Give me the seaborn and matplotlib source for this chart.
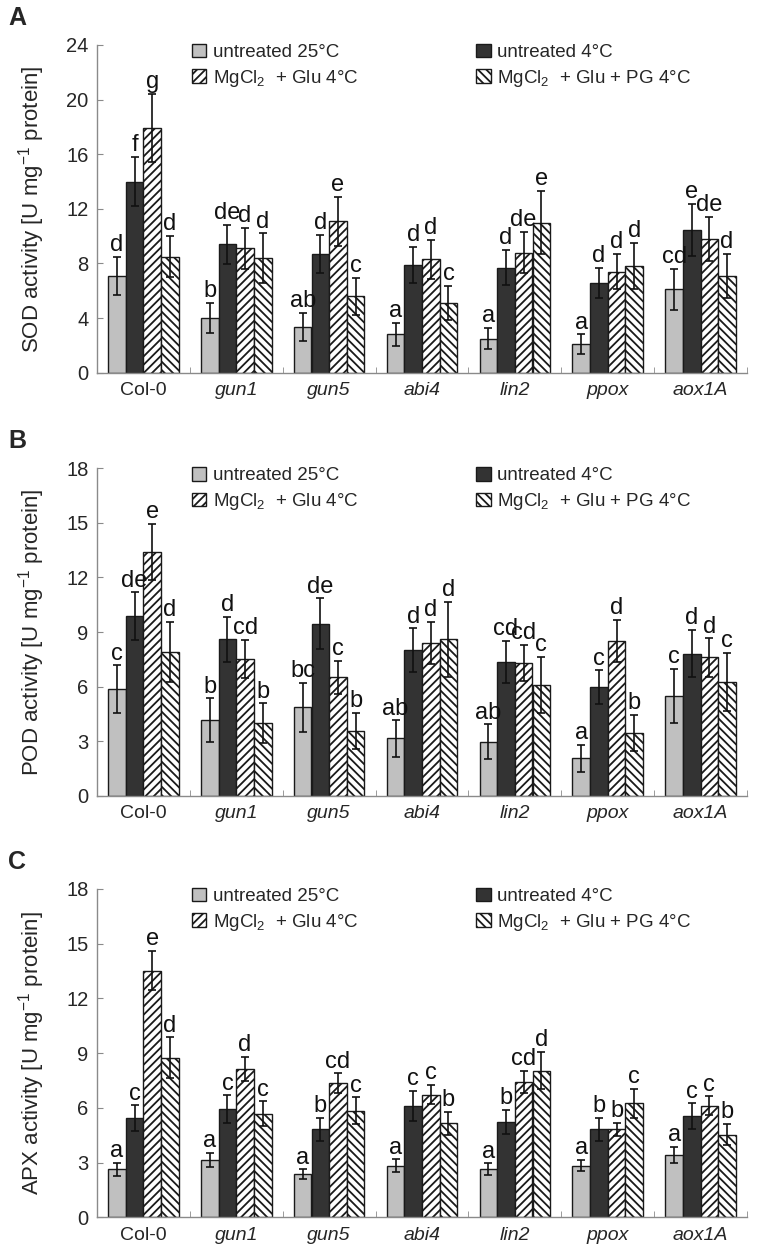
import pandas as pd
import seaborn as sns
import matplotlib.pyplot as plt
from matplotlib.patches import Patch
from matplotlib.ticker import MultipleLocator, FixedLocator

# Values (rows = genotype, cols = treatment)
genotypes = ['Col-0', 'gun1', 'gun5', 'abi4', 'lin2', 'ppox', 'aox1A']
treatments = ['untreated 25°C', 'untreated 4°C',
              'MgCl$_2$  + Glu 4°C', 'MgCl$_2$  + Glu + PG 4°C']

sod_mean = [[7.1, 14.0, 17.9, 8.5], [4.0, 9.4, 9.1, 8.4], [3.35, 8.7, 11.1, 5.6],
            [2.8, 7.9, 8.3, 5.1], [2.5, 7.7, 8.8, 11.0], [2.1, 6.6, 7.4, 7.8],
            [6.1, 10.45, 9.8, 7.1]]
sod_err = [[1.4, 1.8, 2.5, 1.5], [1.1, 1.45, 1.5, 1.8], [1.05, 1.4, 1.8, 1.35],
           [0.85, 1.3, 1.45, 1.25], [0.8, 1.3, 1.5, 2.3], [0.7, 1.1, 1.3, 1.7],
           [1.5, 1.9, 1.6, 1.6]]
sod_letters = [['d', 'f', 'g', 'd'], ['b', 'de', 'd', 'd'], ['ab', 'd', 'e', 'c'],
               ['a', 'd', 'd', 'c'], ['a', 'd', 'de', 'e'], ['a', 'd', 'd', 'd'],
               ['cd', 'e', 'de', 'd']]

pod_mean = [[5.87, 9.88, 13.4, 7.9], [4.15, 8.6, 7.5, 3.98], [4.85, 9.45, 6.5, 3.57],
            [3.15, 8.0, 8.4, 8.6], [2.97, 7.35, 7.28, 6.07], [2.05, 5.97, 8.5, 3.46],
            [5.48, 7.8, 7.6, 6.27]]
pod_err = [[1.3, 1.3, 1.55, 1.65], [1.2, 1.25, 1.05, 1.1], [1.35, 1.4, 0.9, 1.0],
           [1.0, 1.2, 1.15, 2.05], [0.95, 1.15, 1.0, 1.55], [0.73, 0.93, 1.15, 1.0],
           [1.5, 1.3, 1.05, 1.6]]
pod_letters = [['c', 'de', 'e', 'd'], ['b', 'd', 'cd', 'b'], ['bc', 'de', 'c', 'b'],
               ['ab', 'd', 'd', 'd'], ['ab', 'cd', 'cd', 'c'], ['a', 'c', 'd', 'b'],
               ['c', 'd', 'd', 'c']]

apx_mean = [[2.63, 5.43, 13.52, 8.75], [3.14, 5.92, 8.13, 5.67], [2.36, 4.82, 7.35, 5.85],
            [2.83, 6.12, 6.73, 5.15], [2.63, 5.23, 7.42, 8.04], [2.83, 4.82, 4.82, 6.25],
            [3.42, 5.54, 6.12, 4.53]]
apx_err = [[0.35, 0.7, 1.08, 1.12], [0.4, 0.77, 0.66, 0.68], [0.27, 0.64, 0.55, 0.73],
           [0.35, 0.82, 0.53, 0.62], [0.33, 0.68, 0.6, 1.02], [0.31, 0.64, 0.37, 0.8],
           [0.44, 0.7, 0.51, 0.58]]
apx_letters = [['a', 'c', 'e', 'd'], ['a', 'c', 'd', 'c'], ['a', 'b', 'cd', 'c'],
               ['a', 'c', 'c', 'b'], ['a', 'b', 'cd', 'd'], ['a', 'b', 'b', 'c'],
               ['a', 'c', 'c', 'b']]

sns.set_style('ticks')
plt.rcParams['font.family'] = ['Liberation Sans', 'DejaVu Sans']
plt.rcParams['mathtext.fontset'] = 'custom'
plt.rcParams['mathtext.rm'] = 'Liberation Sans'
plt.rcParams['mathtext.it'] = 'Liberation Sans:italic'
plt.rcParams['mathtext.default'] = 'regular'
plt.rcParams['hatch.linewidth'] = 1.3
plt.rcParams['hatch.color'] = '#1a1a1a'

face = ['#c0c0c0', '#333333', 'white', 'white']
hatches = ['', '', '////', '\\\\\\\\']
edge = '#1a1a1a'
spine_col = '#8a8a8a'

panels = [
    ('A', 'SOD activity [U mg$^{-1}$ protein]', sod_mean, sod_err, sod_letters, 24, 4),
    ('B', 'POD activity [U mg$^{-1}$ protein]', pod_mean, pod_err, pod_letters, 18, 3),
    ('C', 'APX activity [U mg$^{-1}$ protein]', apx_mean, apx_err, apx_letters, 18, 3),
]
# axes boxes in pixels (left, top, bottom) of a 758x1254 canvas
W, H = 758, 1254
boxes = [(97, 45, 372.7), (97, 468.3, 795.7), (97, 889, 1217.3)]

fig = plt.figure(figsize=(W / 100, H / 100), dpi=100)

for (tag, ylab, mean, err, letters, ymax, ystep), (left, top, bottom) in zip(panels, boxes):
    ax = fig.add_axes([left / W, 1 - bottom / H, 650 / W, (bottom - top) / H])

    rows = []
    for g, gm, ge, gl in zip(genotypes, mean, err, letters):
        for t, m, e, l in zip(treatments, gm, ge, gl):
            rows.append({'genotype': g, 'treatment': t, 'value': m, 'err': e, 'letter': l})
    df = pd.DataFrame(rows)

    sns.barplot(data=df, x='genotype', y='value', hue='treatment',
                order=genotypes, hue_order=treatments,
                palette=dict(zip(treatments, face)), saturation=1,
                width=0.76, edgecolor=edge, linewidth=1.0,
                errorbar=None, legend=False, ax=ax)

    bar_containers = list(ax.containers)
    for k, cont in enumerate(bar_containers):
        sub = df[df['treatment'] == treatments[k]].set_index('genotype').loc[genotypes]
        xs, ys = [], []
        for bar in cont:
            bar.set_hatch(hatches[k])
            xs.append(bar.get_x() + bar.get_width() / 2)
            ys.append(bar.get_height())
        ax.errorbar(xs, ys, yerr=sub['err'].values, fmt='none', ecolor='#111111',
                    elinewidth=1.2, capsize=3, capthick=1.2, zorder=5)
        for x, y, e, l in zip(xs, ys, sub['err'].values, sub['letter'].values):
            ax.annotate(l, (x, y + e), xytext=(0, 0.5), textcoords='offset points',
                        ha='center', va='bottom', fontsize=17, color='#111111')

    ax.set_xlim(-0.5, len(genotypes) - 0.5)
    ax.set_ylim(0, ymax)
    ax.yaxis.set_major_locator(MultipleLocator(ystep))
    ax.xaxis.set_minor_locator(FixedLocator([i - 0.5 for i in range(len(genotypes) + 1)]))
    ax.tick_params(axis='x', which='major', length=0, pad=7, labelsize=14)
    ax.tick_params(axis='x', which='minor', direction='in', length=4, color=spine_col)
    ax.tick_params(axis='y', direction='in', length=4, color=spine_col, pad=6, labelsize=14.5)
    for lab in ax.get_xticklabels():
        if lab.get_text() != 'Col-0':
            lab.set_style('italic')
    sns.despine(ax=ax)
    for s in ['left', 'bottom']:
        ax.spines[s].set_color(spine_col)
        ax.spines[s].set_linewidth(1.0)
    ax.set_xlabel('')
    ax.set_ylabel(ylab, fontsize=16)
    ax.yaxis.set_label_coords(-0.077, 0.5)

    handles = [Patch(facecolor=face[k], edgecolor=edge, hatch=hatches[k], label=treatments[k])
               for k in range(4)]
    order = [0, 2, 1, 3]
    ax.legend([handles[i] for i in order], [treatments[i] for i in order], ncol=2,
              loc='upper left', bbox_to_anchor=(0.135, 1.027), frameon=False,
              fontsize=13.5, handlelength=0.75, handleheight=0.75, handletextpad=0.35,
              columnspacing=6.3, labelspacing=0.35, borderaxespad=0)

    fig.text(8 / W, 1 - (top - 27) / H, tag, fontsize=18, fontweight='bold', va='center')

fig.savefig('out.png', dpi=100)
